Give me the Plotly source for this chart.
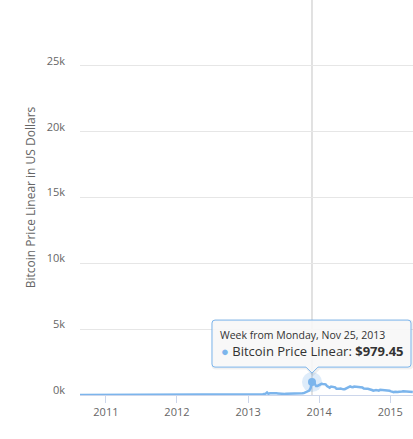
import pandas as pd
import plotly.graph_objects as go

# ---- data (weekly, weeks starting Monday) ----
start_week = "2010-08-16"
prices_2010 = [0.07, 0.066, 0.061, 0.062, 0.062, 0.062, 0.062, 0.063, 0.09, 0.10, 0.15,
               0.20, 0.35, 0.27, 0.28, 0.21, 0.20, 0.24, 0.25, 0.30]
prices_2011 = [0.30, 0.32, 0.40, 0.41, 0.48, 0.90, 1.05, 0.85, 0.90, 0.90, 0.87, 0.80, 0.80,
               0.72, 0.95, 1.25, 2.0, 3.4, 5.9, 7.5, 7.3, 8.7, 17.5, 20.0, 17.5, 16.5,
               14.5, 14.8, 13.9, 13.9, 12.5, 8.0, 10.9, 10.9, 8.8, 7.0, 6.1, 5.7, 5.0,
               5.0, 4.1, 3.2, 3.2, 3.3, 3.0, 2.3, 2.3, 2.8, 3.0, 3.2, 3.9, 4.1]
prices_2012 = [5.3, 6.6, 6.8, 6.3, 5.8, 5.7, 5.4, 4.6, 4.9, 5.0, 5.0, 4.8, 4.8,
               4.9, 4.9, 4.95, 5.1, 5.0, 5.0, 5.0, 5.1, 5.1, 5.3, 5.6, 6.3, 6.5,
               6.6, 7.0, 8.6, 8.9, 9.2, 11.0, 11.8, 10.0, 10.6, 10.2, 11.1, 11.7, 12.2,
               12.4, 11.9, 11.8, 11.6, 10.8, 10.8, 11.0, 11.7, 12.3, 12.6, 13.4, 13.3, 13.4, 13.5]
prices_2013 = [13.6, 14.2, 16.4, 18.6, 20.4, 24.0, 27.0, 31.0, 37, 46, 55, 78,
               104, 190, 90, 125, 135, 112, 115, 123, 129, 120, 100, 100, 103,
               88, 76, 93, 92, 96, 104, 107, 118, 122, 132, 125, 128, 131, 125,
               125, 142, 180, 198, 250, 330, 530, 979.45, 1050, 880, 680, 690, 750]
prices_2014 = [850, 850, 830, 800, 810, 680, 620, 560, 640, 630, 620, 580, 470,
               450, 470, 490, 440, 430, 440, 490, 570, 650, 650, 600, 590, 640,
               630, 620, 620, 590, 590, 570, 490, 510, 480, 475, 460, 410, 380,
               330, 390, 385, 355, 335, 390, 385, 375, 375, 350, 330, 320, 315]
prices_2015 = [275, 230, 215, 250, 225, 220, 240, 238, 270, 290, 285, 260, 245,
               255, 230, 225, 225]

prices = prices_2010 + prices_2011 + prices_2012 + prices_2013 + prices_2014 + prices_2015
weeks = pd.date_range(start_week, periods=len(prices), freq="7D")

series_name = "Bitcoin Price Linear"
hover_week = "2013-11-25"
y_ticks = [0, 5000, 10000, 15000, 20000, 25000]
y_tick_labels = ["0k", "5k", "10k", "15k", "20k", "25k"]
x_ticks = ["2011-01-01", "2012-01-01", "2013-01-01", "2014-01-01", "2015-01-01"]
x_tick_labels = ["2011", "2012", "2013", "2014", "2015"]

# ---- layout geometry ----
W, H = 413, 439
ML, MR, MT, MB = 80, 0, 0, 44
x_range = ["2010-08-21", "2015-04-28"]
y_range = [0, 30000]
blue = "#7cb5ec"
font = "Open Sans"

hi = list(weeks).index(pd.Timestamp(hover_week))
hx, hy = weeks[hi], prices[hi]

pw, ph = W - ML - MR, H - MT - MB
x0ms = pd.Timestamp(x_range[0]).value / 1e6
x1ms = pd.Timestamp(x_range[1]).value / 1e6


def xpix(t):
    return ML + (pd.Timestamp(t).value / 1e6 - x0ms) / (x1ms - x0ms) * pw


def ypix(v):
    return MT + ph - (v - y_range[0]) / (y_range[1] - y_range[0]) * ph


def px(X):
    return (X - ML) / pw


def py(Y):
    return (MT + ph - Y) / ph


ptX, ptY = xpix(hx), ypix(hy)

fig = go.Figure()
fig.add_trace(go.Scatter(x=weeks, y=prices, mode="lines", name=series_name,
                         line=dict(color=blue, width=2.5), hoverinfo="skip"))
# hover halo + marker
fig.add_trace(go.Scatter(x=[hx], y=[hy], mode="markers",
                         marker=dict(size=20, color="rgba(124,181,236,0.25)"),
                         hoverinfo="skip", cliponaxis=False))
fig.add_trace(go.Scatter(x=[hx], y=[hy], mode="markers",
                         marker=dict(size=8, color=blue), hoverinfo="skip", cliponaxis=False))

# crosshair
fig.add_shape(type="line", xref="x", yref="paper", x0=hx, x1=hx, y0=0, y1=1,
              line=dict(color="#c4c4c4", width=1), layer="below")

# tooltip callout
L, R, T, B = ptX - 100, ptX + 99, ptY - 62, ptY - 15
tipY = ptY - 9
r = 3


def P(X, Y):
    return f"{px(X):.5f},{py(Y):.5f}"


def callout(dx=0, dy=0):
    l, rr, t, b, ty, cx = L + dx, R + dx, T + dy, B + dy, tipY + dy, ptX + dx
    return ("M" + P(l + r, t) + " L" + P(rr - r, t) + " Q" + P(rr, t) + " " + P(rr, t + r)
            + " L" + P(rr, b - r) + " Q" + P(rr, b) + " " + P(rr - r, b)
            + " L" + P(cx + 6, b) + " L" + P(cx, ty) + " L" + P(cx - 6, b)
            + " L" + P(l + r, b) + " Q" + P(l, b) + " " + P(l, b - r)
            + " L" + P(l, t + r) + " Q" + P(l, t) + " " + P(l + r, t) + " Z")


fig.add_shape(type="path", xref="paper", yref="paper", path=callout(1, 1),
              line=dict(color="rgba(0,0,0,0.06)", width=3), fillcolor="rgba(0,0,0,0)")
fig.add_shape(type="path", xref="paper", yref="paper", path=callout(),
              line=dict(color=blue, width=1), fillcolor="rgba(247,247,247,0.9)")

date_txt = f"Week from Monday, {hx.strftime('%b')} {hx.day}, {hx.year}"
fig.add_annotation(xref="paper", yref="paper", x=px(L + 6), y=py(ptY - 47),
                   xanchor="left", yanchor="middle", showarrow=False,
                   text=date_txt, font=dict(family=font, size=10.5, color="#333333"))
fig.add_annotation(xref="paper", yref="paper", x=px(L + 7), y=py(ptY - 31),
                   xanchor="left", yanchor="middle", showarrow=False,
                   text=f"<span style='color:{blue}'>●</span> {series_name}: <b>${hy:,.2f}</b>",
                   font=dict(family=font, size=13, color="#333333"))

fig.update_layout(
    width=W, height=H, margin=dict(l=ML, r=MR, t=MT, b=MB),
    paper_bgcolor="white", plot_bgcolor="white", showlegend=False,
    hovermode=False, font=dict(family=font, color="#666666"),
    xaxis=dict(type="date", range=x_range, tickvals=x_ticks, ticktext=x_tick_labels,
               showgrid=False, showline=True, linecolor="#ccd6eb", linewidth=1,
               ticks="outside", ticklen=7, tickcolor="#ccd6eb",
               tickfont=dict(size=11, color="#666666"), zeroline=False),
    yaxis=dict(range=y_range, tickvals=y_ticks, ticktext=y_tick_labels,
               showgrid=True, gridcolor="#e6e6e6", gridwidth=1, zeroline=False,
               showline=False, ticks="", ticklabelstandoff=14, ticklabelshift=-5,
               tickfont=dict(size=11, color="#666666"),
               title=dict(text="Bitcoin Price Linear in US Dollars", standoff=8,
                          font=dict(size=12, color="#666666"))),
)

fig.write_html("out.html")
